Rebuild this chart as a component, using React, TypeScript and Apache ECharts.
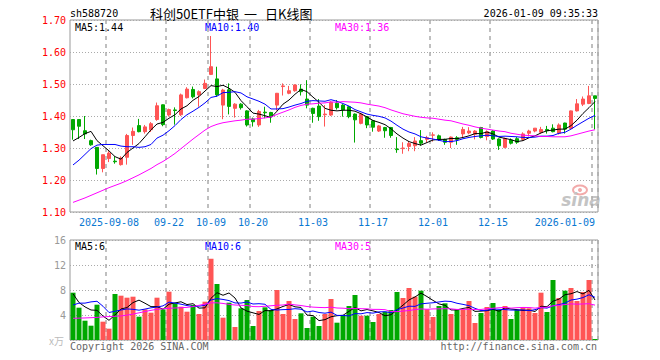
import React, { useEffect, useRef } from 'react';
import * as echarts from 'echarts';

const dates = [
  '2025-08-29', '2025-09-01', '2025-09-02', '2025-09-03', '2025-09-04', '2025-09-05',
  '2025-09-08', '2025-09-09', '2025-09-10', '2025-09-11', '2025-09-12',
  '2025-09-15', '2025-09-16', '2025-09-17', '2025-09-18', '2025-09-19',
  '2025-09-22', '2025-09-23', '2025-09-24', '2025-09-25', '2025-09-26',
  '2025-09-29', '2025-09-30',
  '2025-10-09', '2025-10-10',
  '2025-10-13', '2025-10-14', '2025-10-15', '2025-10-16', '2025-10-17',
  '2025-10-20', '2025-10-21', '2025-10-22', '2025-10-23', '2025-10-24',
  '2025-10-27', '2025-10-28', '2025-10-29', '2025-10-30', '2025-10-31',
  '2025-11-03', '2025-11-04', '2025-11-05', '2025-11-06', '2025-11-07',
  '2025-11-10', '2025-11-11', '2025-11-12', '2025-11-13', '2025-11-14',
  '2025-11-17', '2025-11-18', '2025-11-19', '2025-11-20', '2025-11-21',
  '2025-11-24', '2025-11-25', '2025-11-26', '2025-11-27', '2025-11-28',
  '2025-12-01', '2025-12-02', '2025-12-03', '2025-12-04', '2025-12-05',
  '2025-12-08', '2025-12-09', '2025-12-10', '2025-12-11', '2025-12-12',
  '2025-12-15', '2025-12-16', '2025-12-17', '2025-12-18', '2025-12-19',
  '2025-12-22', '2025-12-23', '2025-12-24', '2025-12-25', '2025-12-26',
  '2025-12-29', '2025-12-30', '2025-12-31',
  '2026-01-05', '2026-01-06', '2026-01-07', '2026-01-08', '2026-01-09',
];

const opens = [
  1.389, 1.389, 1.354, 1.323, 1.302, 1.236, 1.267, 1.259, 1.248, 1.271,
  1.339, 1.370, 1.351, 1.357, 1.389, 1.435, 1.403, 1.419, 1.404, 1.457,
  1.483, 1.466, 1.486, 1.530, 1.516, 1.434, 1.482, 1.424, 1.437, 1.416,
  1.391, 1.372, 1.412, 1.411, 1.434, 1.492, 1.471, 1.479, 1.484, 1.453,
  1.424, 1.431, 1.404, 1.403, 1.440, 1.434, 1.429, 1.406, 1.377, 1.398,
  1.385, 1.353, 1.364, 1.364, 1.297, 1.298, 1.305, 1.307, 1.323, 1.327,
  1.340, 1.338, 1.327, 1.318, 1.332, 1.344, 1.347, 1.343, 1.364, 1.336,
  1.353, 1.328, 1.302, 1.325, 1.329, 1.327, 1.346, 1.353, 1.349, 1.358,
  1.362, 1.346, 1.378, 1.361, 1.416, 1.437, 1.439, 1.463,
];
const closes = [
  1.357, 1.368, 1.344, 1.310, 1.236, 1.279, 1.284, 1.257, 1.269, 1.339,
  1.352, 1.351, 1.366, 1.376, 1.432, 1.373, 1.420, 1.417, 1.466, 1.484,
  1.460, 1.476, 1.502, 1.554, 1.466, 1.481, 1.430, 1.437, 1.426, 1.372,
  1.382, 1.414, 1.410, 1.398, 1.471, 1.494, 1.479, 1.497, 1.476, 1.434,
  1.408, 1.398, 1.406, 1.443, 1.426, 1.419, 1.398, 1.388, 1.406, 1.372,
  1.365, 1.369, 1.354, 1.339, 1.295, 1.300, 1.314, 1.322, 1.315, 1.332,
  1.341, 1.327, 1.318, 1.334, 1.327, 1.358, 1.353, 1.353, 1.333, 1.351,
  1.328, 1.307, 1.330, 1.315, 1.318, 1.344, 1.353, 1.362, 1.358, 1.354,
  1.351, 1.372, 1.359, 1.416, 1.438, 1.453, 1.463, 1.455,
];
const lows = [
  1.326, 1.328, 1.328, 1.307, 1.217, 1.224, 1.256, 1.251, 1.245, 1.248,
  1.310, 1.349, 1.345, 1.350, 1.385, 1.368, 1.398, 1.373, 1.400, 1.455,
  1.455, 1.429, 1.484, 1.528, 1.460, 1.390, 1.405, 1.395, 1.420, 1.367,
  1.367, 1.366, 1.393, 1.379, 1.417, 1.464, 1.468, 1.476, 1.464, 1.424,
  1.379, 1.385, 1.367, 1.400, 1.420, 1.398, 1.393, 1.317, 1.374, 1.362,
  1.351, 1.350, 1.332, 1.332, 1.285, 1.282, 1.290, 1.290, 1.307, 1.317,
  1.320, 1.322, 1.310, 1.300, 1.310, 1.334, 1.343, 1.327, 1.330, 1.324,
  1.325, 1.294, 1.299, 1.311, 1.313, 1.322, 1.336, 1.349, 1.345, 1.345,
  1.349, 1.342, 1.345, 1.359, 1.414, 1.431, 1.437, 1.358,
];
const highs = [
  1.389, 1.389, 1.400, 1.326, 1.302, 1.279, 1.290, 1.274, 1.274, 1.344,
  1.364, 1.391, 1.372, 1.381, 1.442, 1.436, 1.423, 1.427, 1.470, 1.490,
  1.492, 1.480, 1.514, 1.650, 1.554, 1.485, 1.502, 1.440, 1.440, 1.418,
  1.395, 1.419, 1.429, 1.413, 1.472, 1.502, 1.494, 1.499, 1.499, 1.512,
  1.426, 1.453, 1.434, 1.446, 1.450, 1.437, 1.431, 1.408, 1.410, 1.400,
  1.387, 1.372, 1.366, 1.366, 1.334, 1.318, 1.322, 1.334, 1.356, 1.338,
  1.349, 1.342, 1.329, 1.336, 1.337, 1.366, 1.365, 1.356, 1.366, 1.355,
  1.356, 1.330, 1.332, 1.330, 1.334, 1.349, 1.357, 1.362, 1.366, 1.369,
  1.374, 1.377, 1.379, 1.417, 1.453, 1.461, 1.494, 1.463,
];

const ma5 = [
  1.322, 1.333, 1.345, 1.352, 1.323, 1.307, 1.291, 1.273, 1.265, 1.286,
  1.300, 1.314, 1.335, 1.357, 1.375, 1.380, 1.393, 1.404, 1.422, 1.432,
  1.449, 1.461, 1.478, 1.495, 1.492, 1.496, 1.487, 1.474, 1.448, 1.429,
  1.409, 1.406, 1.401, 1.395, 1.415, 1.437, 1.450, 1.468, 1.483, 1.476,
  1.459, 1.443, 1.424, 1.418, 1.416, 1.418, 1.418, 1.415, 1.407, 1.397,
  1.386, 1.380, 1.373, 1.360, 1.344, 1.331, 1.320, 1.314, 1.309, 1.317,
  1.325, 1.327, 1.327, 1.330, 1.329, 1.333, 1.338, 1.345, 1.345, 1.350,
  1.344, 1.334, 1.330, 1.326, 1.320, 1.323, 1.332, 1.338, 1.347, 1.354,
  1.356, 1.359, 1.359, 1.370, 1.387, 1.408, 1.426, 1.445,
];
const ma10 = [
  1.247, 1.262, 1.280, 1.298, 1.309, 1.311, 1.311, 1.311, 1.306, 1.304,
  1.304, 1.302, 1.304, 1.311, 1.331, 1.340, 1.354, 1.370, 1.389, 1.404,
  1.415, 1.427, 1.441, 1.458, 1.462, 1.473, 1.474, 1.476, 1.472, 1.460,
  1.453, 1.446, 1.437, 1.422, 1.422, 1.423, 1.428, 1.434, 1.439, 1.446,
  1.448, 1.447, 1.446, 1.451, 1.446, 1.439, 1.431, 1.420, 1.413, 1.406,
  1.402, 1.399, 1.394, 1.384, 1.371, 1.359, 1.350, 1.344, 1.335, 1.331,
  1.328, 1.324, 1.320, 1.320, 1.323, 1.329, 1.333, 1.336, 1.338, 1.340,
  1.338, 1.336, 1.337, 1.336, 1.335, 1.333, 1.333, 1.334, 1.337, 1.337,
  1.339, 1.346, 1.349, 1.359, 1.371, 1.382, 1.393, 1.402,
];
const ma30 = [
  1.130, 1.137, 1.144, 1.152, 1.160, 1.168, 1.176, 1.183, 1.190, 1.198,
  1.207, 1.216, 1.226, 1.236, 1.248, 1.258, 1.270, 1.283, 1.298, 1.313,
  1.328, 1.342, 1.356, 1.367, 1.374, 1.379, 1.382, 1.385, 1.387, 1.390,
  1.390, 1.392, 1.394, 1.397, 1.405, 1.412, 1.419, 1.427, 1.433, 1.437,
  1.438, 1.440, 1.441, 1.444, 1.443, 1.445, 1.444, 1.443, 1.441, 1.437,
  1.434, 1.431, 1.426, 1.419, 1.413, 1.407, 1.403, 1.399, 1.396, 1.394,
  1.393, 1.390, 1.387, 1.385, 1.380, 1.375, 1.371, 1.366, 1.362, 1.359,
  1.356, 1.353, 1.351, 1.346, 1.343, 1.340, 1.339, 1.338, 1.336, 1.336,
  1.335, 1.335, 1.335, 1.338, 1.343, 1.348, 1.353, 1.357,
];

const volumes = [
  7.57, 5.17, 3.09, 2.29, 5.65, 2.93, 1.81, 7.36, 7.09, 6.77,
  6.93, 3.73, 4.9, 4.37, 6.77, 4.9, 7.73, 5.87, 5.33, 4.53,
  5.6, 4.16, 6.13, 13.0, 8.96, 3.57, 5.97, 2.08, 5.07, 6.4,
  2.24, 4.64, 5.23, 4.8, 8.0, 4.16, 6.24, 3.36, 4.27, 1.92,
  3.73, 2.24, 4.16, 6.56, 2.77, 4.0, 5.44, 7.2, 3.89, 3.89,
  2.88, 4.16, 4.53, 4.8, 7.68, 6.72, 8.32, 6.93, 7.89, 4.9,
  3.68, 5.44, 5.87, 4.16, 4.9, 4.9, 6.24, 2.72, 4.32, 5.28,
  5.92, 4.8, 5.44, 3.36, 4.8, 5.23, 5.07, 4.32, 7.57, 4.48,
  9.6, 6.72, 7.89, 8.32, 6.24, 7.68, 9.6, 0.16,
];
const volMa5 = [
  7.4, 6.0, 5.3, 4.8, 4.75, 3.83, 3.15, 4.01, 4.97, 5.19,
  5.99, 6.38, 5.88, 5.34, 5.34, 4.93, 5.73, 5.93, 6.12, 5.67,
  5.81, 5.10, 5.15, 6.68, 7.57, 7.16, 7.53, 6.72, 5.13, 4.62,
  4.35, 4.09, 4.72, 4.66, 4.98, 5.37, 5.69, 5.31, 5.21, 3.99,
  3.90, 3.10, 3.26, 3.72, 3.89, 3.95, 4.59, 5.19, 4.66, 4.88,
  4.66, 4.40, 3.87, 4.05, 4.81, 5.58, 6.41, 6.89, 7.51, 6.95,
  6.34, 5.77, 5.56, 4.81, 4.81, 5.05, 5.21, 4.58, 4.62, 4.69,
  4.90, 4.61, 5.15, 4.96, 4.86, 4.73, 4.78, 4.56, 5.40, 5.33,
  6.21, 6.54, 7.25, 7.40, 7.75, 7.37, 7.95, 6.40,
];
const volMa10 = [
  5.6, 5.9, 5.9, 6.1, 6.2, 5.4, 4.4, 4.6, 4.8, 4.97,
  4.91, 4.77, 4.95, 5.15, 5.27, 5.46, 6.06, 5.91, 5.73, 5.51,
  5.37, 5.42, 5.54, 6.40, 6.62, 6.49, 6.31, 5.93, 5.91, 6.09,
  5.76, 5.81, 5.72, 4.90, 4.80, 4.86, 4.89, 5.01, 4.93, 4.49,
  4.64, 4.40, 4.29, 4.46, 3.94, 3.93, 3.85, 4.23, 4.19, 4.39,
  4.30, 4.50, 4.53, 4.36, 4.85, 5.12, 5.41, 5.38, 5.78, 5.88,
  5.96, 6.09, 6.22, 6.16, 5.88, 5.70, 5.49, 5.07, 4.71, 4.75,
  4.98, 4.91, 4.87, 4.79, 4.78, 4.81, 4.69, 4.85, 5.18, 5.10,
  5.47, 5.66, 5.90, 6.40, 6.54, 6.79, 7.24, 6.83,
];
const volMa30 = [
  3.47, 3.50, 3.53, 3.57, 3.62, 3.70, 3.75, 3.80, 3.85, 3.98,
  4.15, 4.35, 4.55, 4.75, 4.90, 5.00, 5.07, 5.12, 5.17, 5.22,
  5.35, 5.55, 5.75, 5.95, 5.95, 5.85, 5.70, 5.60, 5.55, 5.52,
  5.35, 5.33, 5.40, 5.48, 5.56, 5.60, 5.75, 5.62, 5.52, 5.36,
  5.26, 5.21, 5.18, 5.25, 5.12, 5.09, 5.01, 5.06, 5.01, 4.99,
  4.90, 4.90, 4.85, 4.57, 4.53, 4.63, 4.71, 4.87, 4.97, 4.92,
  4.97, 4.99, 5.01, 4.99, 4.89, 4.91, 4.91, 4.89, 4.89, 5.01,
  5.08, 5.17, 5.21, 5.10, 5.17, 5.21, 5.20, 5.10, 5.22, 5.24,
  5.47, 5.55, 5.67, 5.78, 5.73, 5.77, 5.81, 5.58,
];

const tickDates = ['2025-09-08', '2025-09-22', '2025-10-09', '2025-10-20', '2025-11-03', '2025-11-17', '2025-12-01', '2025-12-15', '2026-01-09'];
const tickLabels = ['2025-09-08', '09-22', '10-09', '10-20', '11-03', '11-17', '12-01', '12-15', '2026-01-09'];
const priceTicks = { min: 1.1, max: 1.7, step: 0.1 };
const volTicks = { min: 0, max: 16, step: 4 };

const UP = '#ff5555';
const DOWN = '#00a800';
const MONO = '"DejaVu Sans Mono", "Liberation Mono", monospace';
const CJK = '"Noto Sans CJK SC", sans-serif';

export default function App() {
  const ref = useRef<HTMLDivElement>(null);
  useEffect(() => {
    const chart = echarts.init(ref.current as HTMLDivElement, null, { renderer: 'svg' });
    const candle = dates.map((_, i) => [opens[i], closes[i], lows[i], highs[i]]);
    const splitIdx = tickDates.map((d) => dates.indexOf(d));
    const isMark = (i: number) => splitIdx.indexOf(i) >= 0;
    const vSplit = { show: true, interval: (i: number) => isMark(i), lineStyle: { color: '#aaa', type: [4, 4], width: 1.5 } };
    const hSplit = { show: true, lineStyle: { color: '#aaa', type: [1, 2], width: 1 } };
    const line = (name: string, data: number[], color: string, xi: number) => ({
      name, type: 'line', data, xAxisIndex: xi, yAxisIndex: xi, showSymbol: false, symbol: 'none', silent: true,
      lineStyle: { color, width: 1 }, z: 5,
    });
    const txt = (text: string, x: number, y: number, fill: string, opts: any = {}) => ({
      type: 'text', x, y, silent: true,
      style: { text, fill, font: opts.font || `10px ${MONO}`, textAlign: opts.align || 'left', textVerticalAlign: 'middle' },
    });
    chart.setOption({
      animation: false,
      backgroundColor: '#fff',
      grid: [
        { left: 70, top: 20, width: 528, height: 192, show: true, borderColor: '#999', borderWidth: 1, backgroundColor: 'transparent' },
        { left: 70, top: 240, width: 528, height: 100, show: true, borderColor: '#999', borderWidth: 1, backgroundColor: 'transparent' },
      ],
      xAxis: [
        {
          type: 'category', gridIndex: 0, data: dates, boundaryGap: true,
          axisLine: { show: false }, axisTick: { show: false },
          axisLabel: {
            interval: (i: number) => isMark(i),
            formatter: (v: string) => { const k = tickDates.indexOf(v); return k >= 0 ? tickLabels[k] : ''; },
            color: '#0a78d2', fontFamily: MONO, fontSize: 10, margin: 5, alignMaxLabel: 'right',
          },
          splitLine: vSplit,
        },
        {
          type: 'category', gridIndex: 1, data: dates, boundaryGap: true,
          axisLine: { show: false }, axisTick: { show: false }, axisLabel: { show: false },
          splitLine: vSplit,
        },
      ],
      yAxis: [
        {
          type: 'value', gridIndex: 0, min: priceTicks.min, max: priceTicks.max, interval: priceTicks.step,
          axisLine: { show: false }, axisTick: { show: false },
          axisLabel: { color: '#ff0000', fontFamily: MONO, fontSize: 10, margin: 4, formatter: (v: number) => v.toFixed(2) },
          splitLine: hSplit,
        },
        {
          type: 'value', gridIndex: 1, min: volTicks.min, max: volTicks.max, interval: volTicks.step,
          axisLine: { show: false }, axisTick: { show: false },
          axisLabel: { color: '#999', fontFamily: MONO, fontSize: 10, margin: 4, formatter: (v: number) => (v === 0 ? '' : String(v)) },
          splitLine: hSplit,
        },
      ],
      series: [
        {
          type: 'candlestick', data: candle, xAxisIndex: 0, yAxisIndex: 0, barWidth: 4, silent: true,
          itemStyle: { color: UP, color0: DOWN, borderColor: UP, borderColor0: DOWN, borderWidth: 1 },
        },
        line('MA5', ma5, '#000000', 0),
        line('MA10', ma10, '#0000ff', 0),
        line('MA30', ma30, '#ff00ff', 0),
        {
          type: 'bar', data: volumes, xAxisIndex: 1, yAxisIndex: 1, barWidth: 5, silent: true,
          itemStyle: { color: (p: any) => (closes[p.dataIndex] >= opens[p.dataIndex] ? UP : DOWN) },
        },
        line('VMA5', volMa5, '#000000', 1),
        line('VMA10', volMa10, '#0000ff', 1),
        line('VMA30', volMa30, '#ff00ff', 1),
      ],
      graphic: [
        txt('sh588720', 70, 13, '#000'),
        txt('科创50ETF中银', 150, 13, '#000', { font: `13px ${CJK}` }),
        txt('一', 244, 13, '#000', { font: `13px ${CJK}` }),
        txt('日K线图', 265, 13, '#000', { font: `13px ${CJK}` }),
        txt('2026-01-09 09:35:33', 598, 13, '#000', { align: 'right' }),
        txt('MA5:1.44', 75, 27, '#000'),
        txt('MA10:1.40', 205, 27, '#0000ff'),
        txt('MA30:1.36', 335, 27, '#ff00ff'),
        txt('MA5:6', 75, 246, '#000'),
        txt('MA10:6', 205, 246, '#0000ff'),
        txt('MA30:5', 335, 246, '#ff00ff'),
        txt('x万', 64, 340, '#bbb', { align: 'right', font: `10px ${CJK}` }),
        txt('Copyright 2026 SINA.COM', 70, 346, '#666'),
        txt('http://finance.sina.com.cn', 597, 346, '#666', { align: 'right' }),
        { type: 'ellipse', silent: true, shape: { cx: 580, cy: 190, rx: 7, ry: 4.5 }, style: { fill: 'none', stroke: '#f2aaaa', lineWidth: 2 } },
        { type: 'circle', silent: true, shape: { cx: 580, cy: 190, r: 2 }, style: { fill: '#f2aaaa' } },
        txt('sina', 581, 200, '#c4c4c4', { align: 'center', font: `italic bold 17px "DejaVu Sans", sans-serif` }),
      ],
    });
    return () => chart.dispose();
  }, []);
  return <div ref={ref} style={{ position: 'fixed', left: 0, top: 0, width: 660, height: 360, background: '#fff' }} />;
}
